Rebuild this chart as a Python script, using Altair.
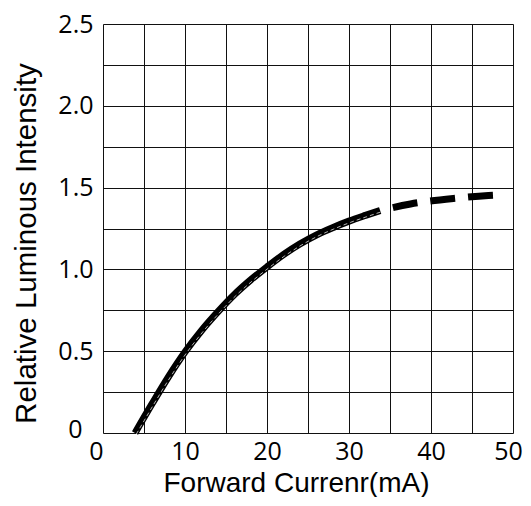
import altair as alt
import pandas as pd

# Data
solid_x = [3.9, 6, 8, 10, 12, 14, 16, 18, 20, 22, 24, 26, 28, 30, 32, 33.8]
solid_y = [0.0, 0.18, 0.345, 0.495, 0.625, 0.74, 0.845, 0.935, 1.015, 1.09, 1.155, 1.21, 1.255, 1.295, 1.33, 1.36]
dashed_x = [33.8, 37.5, 43.0, 47.0, 48.3]
dashed_y = [1.36, 1.40, 1.435, 1.452, 1.455]

x_grid = [0, 5, 10, 15, 20, 25, 30, 35, 40, 45, 50]
y_grid = [0, 0.25, 0.5, 0.75, 1.0, 1.25, 1.5, 1.75, 2.0, 2.25, 2.5]

x_title = "Forward Currenr(mA)"
y_title = "Relative Luminous Intensity"

solid = pd.DataFrame({"x": solid_x, "y": solid_y})
dashed = pd.DataFrame({"x": dashed_x, "y": dashed_y})

xs = alt.Scale(domain=[0, 50], nice=False)
ys = alt.Scale(domain=[0, 2.5], nice=False)

x_axis = alt.Axis(
    values=x_grid,
    labelExpr="datum.value % 10 == 0 ? datum.label : ''",
    grid=True, gridColor="#111", gridWidth=1, ticks=False, domain=False,
    labelFont="Open Sans", labelFontSize=25, labelColor="#000", labelPadding=6,
    labelAlign={"condition": {"test": "datum.value == 0", "value": "right"}, "value": "center"},
    labelOffset={"condition": {"test": "datum.value == 50", "value": -5}, "value": 0},
    labelFlush=False, labelOverlap=False,
    title=x_title, titleFont="Liberation Sans", titleFontSize=28, titleFontWeight="normal",
    titleColor="#000", titleX=193, titleY=58, titleBaseline="alphabetic", titleAlign="center",
)
y_axis = alt.Axis(
    values=y_grid,
    labelExpr="datum.value == 0 ? '0' : ((datum.value * 2) % 1 == 0 ? format(datum.value, '.1f') : '')",
    grid=True, gridColor="#111", gridWidth=1, ticks=False, domain=False,
    labelFont="Open Sans", labelFontSize=25, labelColor="#000",
    labelPadding={"condition": {"test": "datum.value == 0", "value": 21}, "value": 10},
    labelOffset={"condition": {"test": "datum.value == 0", "value": -4}, "value": 0},
    labelFlush=False, labelOverlap=False,
    title=y_title, titleFont="Liberation Sans", titleFontSize=29.5, titleFontWeight="normal",
    titleColor="#000", titleX=-68, titleY=219, titleBaseline="alphabetic", titleAlign="center",
    titleAngle=270,
)

base_solid = alt.Chart(solid)
black_solid = base_solid.mark_line(color="#000", strokeWidth=7, strokeCap="butt", interpolate="monotone").encode(
    x=alt.X("x:Q", scale=xs, axis=x_axis),
    y=alt.Y("y:Q", scale=ys, axis=y_axis),
)
white_solid = base_solid.transform_calculate(
    xw="datum.x + 0.15", yw="datum.y - 0.008"
).mark_line(color="#fff", strokeWidth=0.7, strokeDash=[4, 3], interpolate="monotone").encode(
    x=alt.X("xw:Q", scale=xs),
    y=alt.Y("yw:Q", scale=ys),
)
black_dashed = alt.Chart(dashed).mark_line(
    color="#000", strokeWidth=7, strokeCap="butt", strokeDash=[25, 13], strokeDashOffset=25,
    interpolate="monotone",
).encode(
    x=alt.X("x:Q", scale=xs),
    y=alt.Y("y:Q", scale=ys),
)

chart = alt.layer(black_solid, white_solid, black_dashed).properties(
    width=410, height=409,
    autosize=alt.AutoSizeParams(type="none"),
    padding={"left": 95, "top": 16, "right": 10, "bottom": 64},
).configure_view(stroke="#555", strokeWidth=2).configure(background="#fff")

chart.save("out.html", embed_options={"renderer": "svg", "actions": False})
